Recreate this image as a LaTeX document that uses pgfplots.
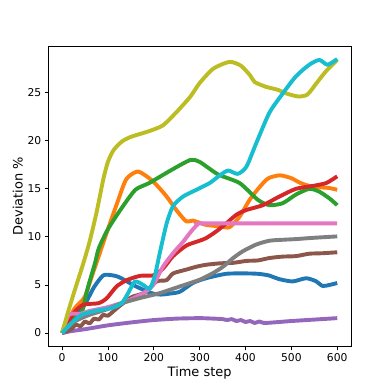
\documentclass[border=0pt]{standalone}
\usepackage{fontspec}
\setmainfont{DejaVu Sans}
\usepackage{pgfplots}
\pgfplotsset{compat=1.18}
\definecolor{tabblue}{HTML}{1F77B4}
\definecolor{taborange}{HTML}{FF7F0E}
\definecolor{tabgreen}{HTML}{2CA02C}
\definecolor{tabred}{HTML}{D62728}
\definecolor{tabpurple}{HTML}{9467BD}
\definecolor{tabbrown}{HTML}{8C564B}
\definecolor{tabpink}{HTML}{E377C2}
\definecolor{tabgray}{HTML}{7F7F7F}
\definecolor{tabolive}{HTML}{BCBD22}
\definecolor{tabcyan}{HTML}{17BECF}
\begin{document}
\begin{tikzpicture}
\useasboundingbox (-48.3bp,-43.3bp) rectangle (341.7bp,346.7bp);
\begin{axis}[
  at={(0,0)},anchor=south west,scale only axis,
  width=302.7bp,height=300.7bp,
  xmin=-30,xmax=630,ymin=-1.42,ymax=29.85,
  xtick={0,100,...,600},ytick={0,5,...,25},
  tick align=outside,major tick length=3.5bp,
  tick style={black,line width=0.8bp},
  axis line style={black,line width=0.8bp},
  xtick pos=bottom,ytick pos=left,
  tick label style={font=\fontsize{10.8}{12}\selectfont},
  label style={font=\fontsize{13}{15}\selectfont},
  /pgf/number format/assume math mode=true,
  xlabel={Time step},ylabel={Deviation \%},
  xlabel style={yshift=2bp},ylabel style={yshift=-2bp},
  every axis plot/.style={line width=3.9bp,line join=round,smooth,tension=0.4},
]
% blue
\addplot[tabblue] coordinates {(0,0) (15,1.0) (32,1.9) (50,3.0) (70,4.8) (90,6.0) (110,6.0) (125,5.8) (159,4.9) (195,4.15) (215,4.0) (235,4.1) (257,4.3) (285,5.2) (314,5.7) (358,6.16) (400,6.2) (427,6.16) (450,6.0) (474,5.6) (503,5.37) (532,5.7) (553,5.4) (568,4.9) (583,5.0) (600,5.2)};
% orange
\addplot[taborange] coordinates {(0,0) (14,1.4) (28,2.6) (40,3.2) (50,3.8) (65,5.9) (80,8) (100,10.8) (120,13.5) (140,16) (165,16.8) (190,16.1) (206,15.4) (228,14.2) (249,12.8) (271,11.6) (285,11.7) (314,11.25) (344,11.1) (365,11.0) (387,12.1) (409,13.85) (431,15.2) (450,16.1) (475,16.4) (500,16.1) (520,15.6) (547,15.2) (580,15.1) (600,14.9)};
% green
\addplot[tabgreen] coordinates {(0,0) (20,1.2) (43,2.2) (50,3.5) (57,4.85) (72,7.3) (80,8.8) (100,10.8) (130,13) (160,14.9) (190,15.6) (240,17) (280,18) (300,17.8) (340,16.5) (387,15.6) (427,13.85) (452,13.3) (481,13.5) (510,14.4) (539,15.0) (561,14.7) (583,14.0) (600,13.3)};
% red
\addplot[tabred] coordinates {(0,0) (24,2.0) (46,2.94) (79,3.1) (97,3.6) (119,4.85) (141,5.5) (170,5.95) (199,6.0) (220,6.7) (242,8.0) (271,9.1) (300,9.6) (314,9.87) (336,10.56) (358,11.4) (380,12.3) (402,12.8) (438,13.3) (474,14.2) (510,15.0) (547,15.3) (576,15.6) (600,16.3)};
% purple
\addplot[tabpurple] coordinates {(0,0) (20,0.2) (50,0.4) (100,0.8) (150,1.1) (200,1.35) (250,1.5) (300,1.55) (330,1.5) (350,1.45) (360,1.35) (370,1.45) (380,1.25) (390,1.35) (400,1.15) (410,1.25) (420,1.05) (430,1.2) (440,1.05) (460,1.1) (500,1.25) (550,1.4) (600,1.55)};
% brown
\addplot[tabbrown] coordinates {(0,0) (20,0.4) (30,0.9) (40,0.7) (50,1.2) (60,1.0) (70,1.5) (80,1.4) (90,1.9) (100,1.8) (120,2.6) (150,3.7) (180,4.2) (206,5.36) (228,5.5) (242,6.2) (271,6.6) (293,6.9) (314,7.1) (344,7.25) (373,7.3) (402,7.5) (427,7.55) (452,7.8) (481,7.95) (510,8.0) (539,8.25) (568,8.3) (600,8.4)};
% pink
\addplot[tabpink,smooth=false] coordinates {(0,0) (15,1.9) (40,2.0) (60,2.3) (100,2.7) (140,3.3) (177,4.15) (199,5.0) (220,6.9) (242,8.3) (264,9.5) (282,10.6) (296,11.3) (310,11.4) (600,11.4)};
% gray
\addplot[tabgray] coordinates {(0,0) (20,1.0) (40,1.5) (60,1.9) (100,2.5) (130,3.1) (170,3.64) (213,4.15) (257,4.85) (300,5.54) (329,6.23) (351,6.9) (373,7.8) (394,8.5) (423,9.2) (452,9.6) (481,9.7) (510,9.77) (547,9.9) (600,10.05)};
% olive
\addplot[tabolive] coordinates {(0,0) (15,2.5) (30,4.8) (46,7.2) (60,9.5) (75,12.5) (90,16) (100,17.8) (112,19) (130,19.9) (150,20.4) (190,21) (220,21.6) (250,23) (280,24.6) (300,26) (330,27.5) (365,28.2) (390,27.8) (410,26.8) (420,26.1) (445,25.6) (470,25.3) (490,24.9) (515,24.6) (535,24.8) (555,26) (575,27.2) (600,28.4)};
% cyan
\addplot[tabcyan] coordinates {(0,0) (21,1.04) (43,1.9) (72,2.3) (108,2.6) (130,3.1) (144,4.15) (159,5.36) (177,5.0) (191,4.6) (202,5.9) (213,8.3) (228,11.4) (242,13.2) (264,14.2) (293,14.9) (322,15.6) (344,16.4) (362,16.9) (383,16.55) (402,17.3) (423,19.7) (452,22.9) (481,24.9) (510,26.7) (539,27.9) (561,28.4) (579,27.9) (600,28.5)};
\end{axis}
\end{tikzpicture}
\end{document}
